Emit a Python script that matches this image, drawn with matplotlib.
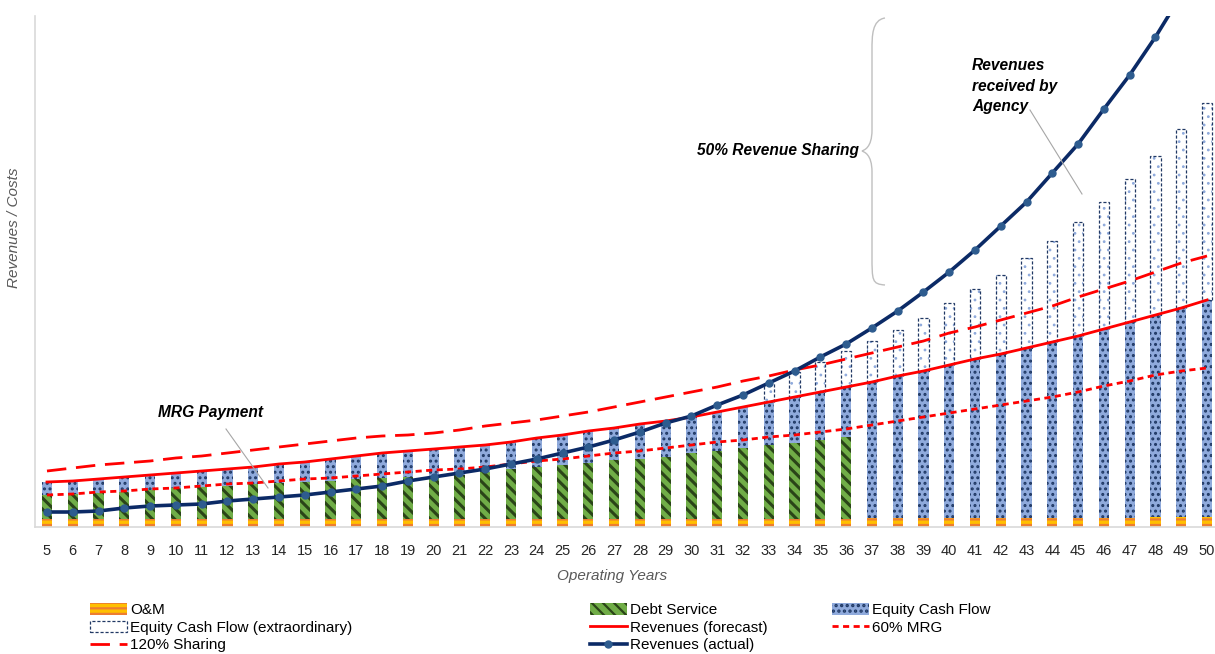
import matplotlib
matplotlib.use('Agg')
import matplotlib.pyplot as plt
import matplotlib.patches as mpatches
import matplotlib.lines as mlines
from matplotlib.path import Path

plt.rcParams['hatch.linewidth'] = 1.6
NARROW = ['Liberation Sans Narrow', 'Liberation Sans', 'DejaVu Sans']

# ---------------- data ----------------
years = list(range(5, 51))
om = [8] * 32 + [9] * 11 + [10] * 3
debt_service = [24, 25, 26, 27, 29, 31, 32, 33, 35, 36,
                37, 38, 40, 41, 42, 43, 44, 47, 50, 52,
                54, 56, 59, 60, 62, 66, 68, 71, 74, 76,
                79, 82] + [0] * 14
equity = [13, 13, 14, 15, 15, 15, 16, 17, 17, 19,
          20, 22, 23, 25, 26, 27, 28, 27, 27, 29,
          30, 32, 32, 35, 36, 36, 39, 41, 43, 46,
          48, 50, 136, 142, 147, 153, 159, 164, 170, 176,
          182, 189, 196, 202, 209, 217]
equity_extra = [0] * 28 + [18, 25, 30, 36, 41, 46, 53, 62, 70, 79,
                           90, 101, 114, 127, 143, 159, 179, 197]
rev_forecast = [45, 46, 48, 50, 52, 54, 56, 58, 60, 63,
                65, 68, 71, 74, 76, 78, 80, 82, 85, 89,
                92, 96, 99, 103, 106, 110, 115, 120, 125, 130,
                135, 140, 145, 151, 156, 162, 168, 173, 179, 185,
                191, 198, 205, 212, 219, 227]
mrg_60 = [32, 33, 35, 36, 38, 39, 41, 43, 44, 46,
          48, 49, 51, 53, 55, 57, 58, 60, 63, 66,
          68, 71, 74, 76, 79, 82, 85, 87, 90, 92,
          95, 98, 102, 106, 110, 114, 118, 122, 126, 130,
          135, 141, 146, 152, 156, 159]
sharing_120 = [56, 59, 62, 64, 66, 69, 71, 74, 77, 80,
               83, 86, 89, 91, 92, 94, 97, 101, 104, 107,
               111, 115, 120, 125, 130, 135, 140, 146, 151, 157,
               162, 168, 174, 180, 186, 194, 200, 207, 214, 221,
               230, 238, 246, 255, 264, 271]
rev_actual = [15, 15, 16, 19, 21, 22, 23, 26, 28, 30,
              32, 35, 38, 41, 46, 50, 54, 58, 63, 68,
              74, 80, 87, 95, 104, 111, 122, 132, 144, 156,
              170, 183, 199, 216, 235, 255, 277, 301, 325, 354,
              383, 418, 452, 490, 532, 577]

# ---------------- colours ----------------
C_OM_FACE, C_OM_HATCH = '#FFC000', '#ED7D31'
C_DEBT_FACE, C_DEBT_HATCH = '#70AD47', '#2A4418'
C_EQ_FACE, C_EQ_HATCH = '#8FAADC', '#1F3864'
C_EXTRA_DOT, C_EXTRA_EDGE = '#8FAADC', '#203864'
C_RED = '#FF0000'
C_NAVY = '#0B2A66'
C_MARK = '#2E5C8F'
C_GRAY = '#D9D9D9'

W, H = 1215, 654
fig = plt.figure(figsize=(W / 100, H / 100), dpi=100)
ax = fig.add_axes([35 / W, (H - 527) / H, 1180 / W, (527 - 16) / H])


def setlw(bars, lw):
    for b in bars:
        try:
            b.set_hatch_linewidth(lw)
        except AttributeError:
            pass


bw = 0.4
bot_debt = om
bot_eq = [a + b for a, b in zip(om, debt_service)]
bot_ex = [a + b for a, b in zip(bot_eq, equity)]

b1 = ax.bar(years, om, bw, color=C_OM_FACE, edgecolor=C_OM_HATCH, hatch='---', linewidth=0, zorder=2)
setlw(b1, 1.6)
b2 = ax.bar(years, debt_service, bw, bottom=bot_debt, color=C_DEBT_FACE, edgecolor=C_DEBT_HATCH,
            hatch='\\\\\\', linewidth=0, zorder=2)
setlw(b2, 2.2)
b3 = ax.bar(years, equity, bw, bottom=bot_eq, color=C_EQ_FACE, edgecolor=C_EQ_HATCH,
            hatch='...', linewidth=0, zorder=2)
setlw(b3, 1.4)
ex_years = [y for y, e in zip(years, equity_extra) if e > 0]
ex_vals = [e for e in equity_extra if e > 0]
ex_bot = [b for b, e in zip(bot_ex, equity_extra) if e > 0]
b4 = ax.bar(ex_years, ex_vals, bw, bottom=ex_bot, color='white', edgecolor=C_EXTRA_DOT,
            hatch='..', linewidth=0, zorder=2)
setlw(b4, 0.8)
ax.bar(ex_years, ex_vals, bw, bottom=ex_bot, fill=False, edgecolor=C_EXTRA_EDGE,
       linewidth=0.9, linestyle=(0, (2.5, 1.5)), zorder=2.5)

ax.plot(years, mrg_60, color=C_RED, lw=2, ls=(0, (2.2, 1.6)), zorder=3)
ax.plot(years, sharing_120, color=C_RED, lw=2, ls=(0, (7, 3.5)), zorder=3)
ax.plot(years, rev_forecast, color=C_RED, lw=2, zorder=3.2)
ax.plot(years, rev_actual, color=C_NAVY, lw=2.6, zorder=4)
ax.plot(years, rev_actual, ls='none', marker='o', ms=5, color=C_MARK, zorder=4.5)

ax.set_xlim(4.535, 50.31)
ax.set_ylim(0, 511)
ax.set_yticks([])
ax.set_xticks(years)
ax.set_xticklabels([str(y) for y in years], fontsize=10.5, color='#262626', family=NARROW)
ax.tick_params(axis='x', length=0, pad=12)
for s in ['top', 'right']:
    ax.spines[s].set_visible(False)
ax.spines['bottom'].set_color(C_GRAY)
ax.spines['left'].set_color(C_GRAY)
ax.spines['bottom'].set_linewidth(1.2)
ax.spines['left'].set_linewidth(1.2)


def fx(x):
    return x / W


def fy(y):
    return 1 - y / H


fig.text(fx(612), fy(576), 'Operating Years', ha='center', va='center', fontsize=11,
         style='italic', color='#595959', family=NARROW)
fig.text(fx(14), fy(228), 'Revenues / Costs', ha='center', va='center', fontsize=11,
         style='italic', color='#595959', rotation=90, family=NARROW)

# annotations
ann = dict(style='italic', weight='bold', color='black', family=NARROW)
fig.text(fx(211), fy(412), 'MRG Payment', ha='center', va='center', fontsize=11.2, **ann)
fig.add_artist(mlines.Line2D([fx(226), fx(268)], [fy(429), fy(488)], color='#A6A6A6', lw=0.8))
fig.text(fx(778), fy(150), '50% Revenue Sharing', ha='center', va='center', fontsize=11.2, **ann)
fig.text(fx(972), fy(86), 'Revenues\nreceived by\nAgency', ha='left', va='center',
         linespacing=1.45, fontsize=11.2, **ann)
fig.add_artist(mlines.Line2D([fx(1030), fx(1082)], [fy(110), fy(194)], color='#A6A6A6', lw=0.8))

# brace
verts = [(885, 18), (872, 20), (872, 36), (872, 50),
         (872, 130),
         (872, 148), (864, 150), (862, 151),
         (864, 152), (872, 154), (872, 172),
         (872, 255),
         (872, 281), (872, 284), (885, 285)]
codes = [Path.MOVETO, Path.CURVE4, Path.CURVE4, Path.CURVE4,
         Path.LINETO,
         Path.CURVE4, Path.CURVE4, Path.CURVE4,
         Path.CURVE4, Path.CURVE4, Path.CURVE4,
         Path.LINETO,
         Path.CURVE4, Path.CURVE4, Path.CURVE4]
brace = Path([(fx(x), fy(y)) for x, y in verts], codes)
fig.add_artist(mpatches.PathPatch(brace, transform=fig.transFigure, fill=False,
                                  edgecolor='#BFBFBF', lw=1.0))

# legend
h_om = mpatches.Patch(facecolor=C_OM_FACE, edgecolor=C_OM_HATCH, hatch='---', lw=0)
h_debt = mpatches.Patch(facecolor=C_DEBT_FACE, edgecolor=C_DEBT_HATCH, hatch='\\\\\\', lw=0)
h_eq = mpatches.Patch(facecolor=C_EQ_FACE, edgecolor=C_EQ_HATCH, hatch='...', lw=0)
h_ex = mpatches.Patch(facecolor='white', edgecolor=C_EXTRA_EDGE, lw=0.9, ls=(0, (2.5, 1.5)))
h_fc = mlines.Line2D([], [], color=C_RED, lw=2)
h_mrg = mlines.Line2D([], [], color=C_RED, lw=2, ls=(0, (2.2, 1.6)))
h_sh = mlines.Line2D([], [], color=C_RED, lw=2, ls=(0, (7, 3.5)))
h_act = mlines.Line2D([], [], color=C_NAVY, lw=2.6, marker='o', ms=5, mfc=C_MARK, mec=C_MARK)

leg_kw = dict(loc='upper left', frameon=False, borderpad=0, borderaxespad=0,
              handlelength=2.4, handleheight=0.8, handletextpad=0.25, labelspacing=0.22,
              prop={'family': NARROW, 'size': 11})
cols = [([h_om, h_ex, h_sh], ['O&M', 'Equity Cash Flow (extraordinary)', '120% Sharing'], 90),
        ([h_debt, h_fc, h_act], ['Debt Service', 'Revenues (forecast)', 'Revenues (actual)'], 590),
        ([h_eq, h_mrg], ['Equity Cash Flow', '60% MRG'], 832)]
for hs, ls_, x0 in cols:
    lg = fig.legend(hs, ls_, bbox_to_anchor=(fx(x0), fy(603)), **leg_kw)

fig.savefig('out.png', dpi=100)
